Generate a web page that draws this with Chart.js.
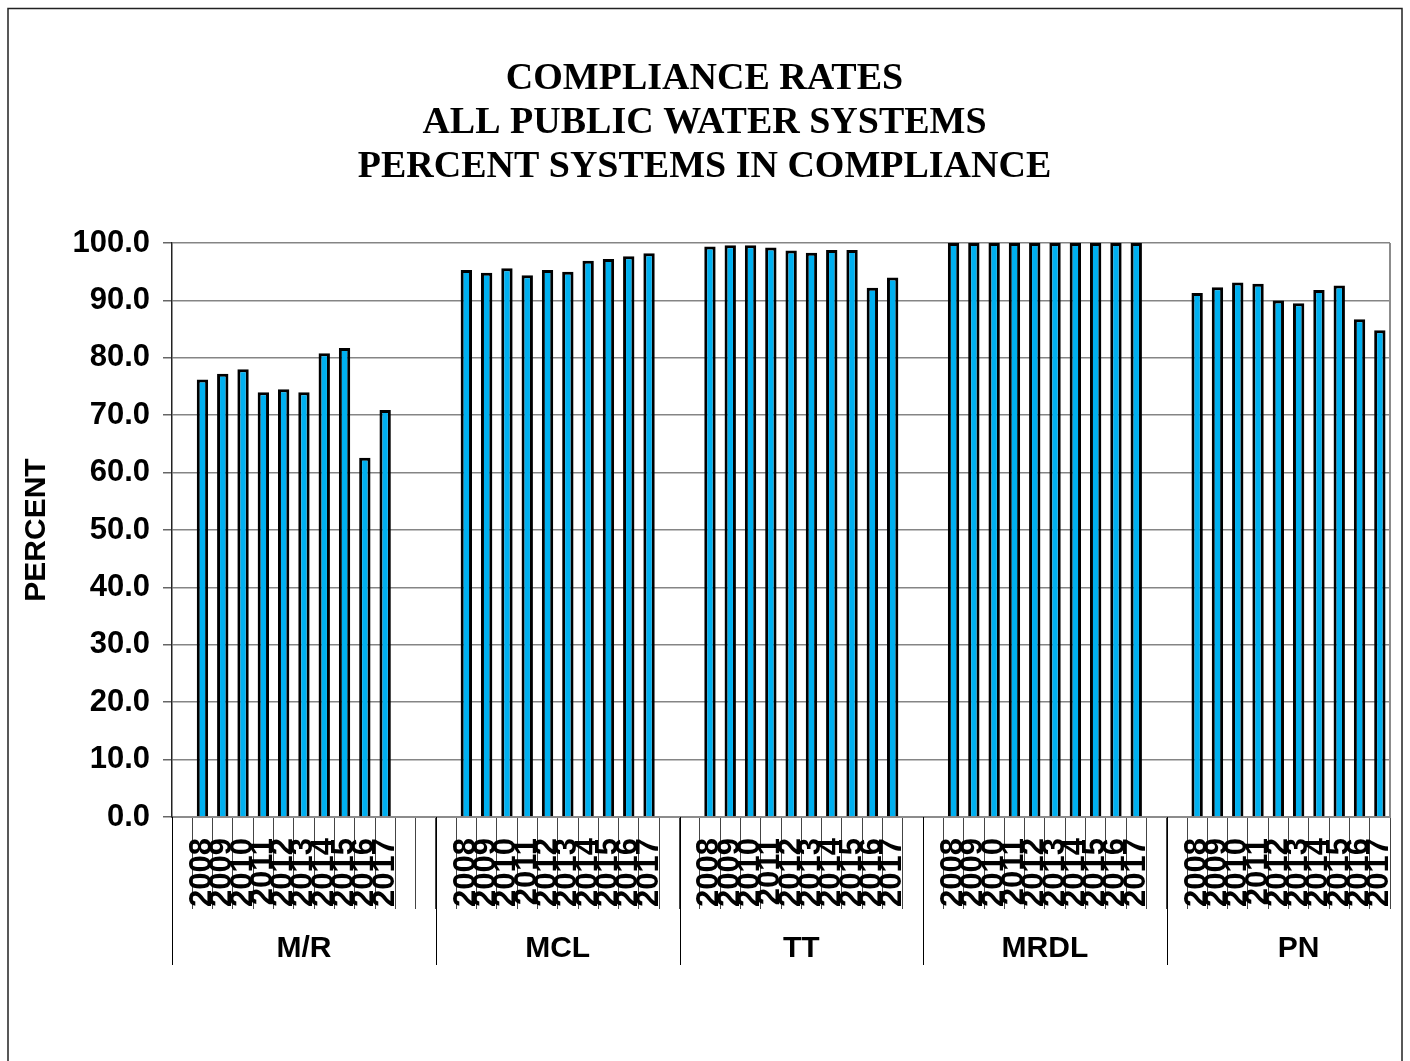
<!DOCTYPE html>
<html>
<head>
  <meta charset="UTF-8">
  <title>Compliance Rates</title>
  <script src="https://cdn.jsdelivr.net/npm/chart.js@4.4.1/dist/chart.umd.min.js"></script>
  <style>
    body { margin: 0; background: #fff; }
    #c { display: block; }
  </style>
</head>
<body>
<canvas id="c" width="1410" height="1061"></canvas>
<script>
  // data
  var years = ['2008', '2009', '2010', '2011', '2012', '2013', '2014', '2015', '2016', '2017'];
  var groups = ['M/R', 'MCL', 'TT', 'MRDL', 'PN'];
  var mr   = [76.2, 77.2, 78.0, 74.0, 74.5, 74.0, 80.8, 81.7, 62.6, 70.9];
  var mcl  = [95.3, 94.8, 95.6, 94.4, 95.3, 95.0, 96.9, 97.2, 97.7, 98.2];
  var tt   = [99.4, 99.6, 99.6, 99.2, 98.7, 98.3, 98.8, 98.8, 92.2, 94.0];
  var mrdl = [100, 100, 100, 100, 100, 100, 100, 100, 100, 100];
  var pn   = [91.3, 92.3, 93.1, 92.9, 90.0, 89.5, 91.8, 92.6, 86.7, 84.8];
  // empty category rows before / after each group (as in the sheet)
  var blankBefore = [1, 1, 1, 1, 1];
  var blankAfter  = [2, 1, 1, 1, 0];

  var series = [mr, mcl, tt, mrdl, pn];
  var labels = [], values = [], groupStart = [], groupSpan = [];
  groups.forEach(function(g, gi) {
    groupStart.push(labels.length);
    for (var i = 0; i < blankBefore[gi]; i++) { labels.push(''); values.push(null); }
    years.forEach(function(y, yi) { labels.push(y); values.push(series[gi][yi]); });
    for (var j = 0; j < blankAfter[gi]; j++) { labels.push(''); values.push(null); }
    groupSpan.push(labels.length - groupStart[gi]);
  });
  groupSpan[groupSpan.length - 1] += 2;  // Excel centres the last label as if the row block were full

  var FONT = 'Arial, "Liberation Sans", sans-serif';

  // outer frame, plot border and the second level of the category axis
  var groupAxis = {
    id: 'groupAxis',
    beforeDraw: function(chart) {
      var ctx = chart.ctx;
      ctx.save();
      ctx.fillStyle = '#fff';
      ctx.fillRect(0, 0, chart.width, chart.height);
      ctx.strokeStyle = '#222';
      ctx.lineWidth = 1.5;
      ctx.strokeRect(8, 8.5, 1394, 1100);
      ctx.restore();
    },
    afterDraw: function(chart) {
      var ctx = chart.ctx, x = chart.scales.x, a = chart.chartArea;
      var slot = x.width / labels.length;
      ctx.save();
      // plot area right edge
      ctx.strokeStyle = '#8c8c8c';
      ctx.lineWidth = 2;
      ctx.beginPath();
      ctx.moveTo(a.right, a.top);
      ctx.lineTo(a.right, a.bottom);
      ctx.stroke();
      // group separators
      ctx.strokeStyle = '#000';
      ctx.lineWidth = 1;
      groupStart.forEach(function(s) {
        var px = Math.round(x.left + s * slot) + 0.5;
        ctx.beginPath();
        ctx.moveTo(px, a.bottom);
        ctx.lineTo(px, a.bottom + 148);
        ctx.stroke();
      });
      // group names
      ctx.fillStyle = '#000';
      ctx.font = 'bold 30px ' + FONT;
      ctx.textAlign = 'center';
      ctx.textBaseline = 'middle';
      groups.forEach(function(g, gi) {
        var cx = x.left + (groupStart[gi] + groupSpan[gi] / 2) * slot;
        ctx.fillText(g, cx, a.bottom + 132);
      });
      ctx.restore();
    }
  };

  new Chart(document.getElementById('c'), {
    type: 'bar',
    data: {
      labels: labels,
      datasets: [{
        data: values,
        backgroundColor: '#00b0f0',
        borderColor: '#000',
        borderWidth: 3,
        barPercentage: 0.56,
        categoryPercentage: 1.0
      }]
    },
    options: {
      responsive: false,
      animation: false,
      devicePixelRatio: 1,
      layout: { padding: { left: 19, right: 20, top: 0, bottom: 0 } },
      plugins: {
        legend: { display: false },
        tooltip: { enabled: false },
        title: {
          display: true,
          text: ['COMPLIANCE RATES', 'ALL PUBLIC WATER SYSTEMS', 'PERCENT SYSTEMS IN COMPLIANCE'],
          color: '#000',
          font: { family: '"Liberation Serif", "Times New Roman", serif', size: 38, weight: 'bold', lineHeight: 44 / 38 },
          padding: { top: 57, bottom: 54 }
        }
      },
      scales: {
        x: {
          offset: true,
          grid: {
            offset: true,
            drawOnChartArea: false,
            drawTicks: true,
            tickLength: 92,
            color: '#444',
            lineWidth: 1
          },
          border: { display: true, color: '#8c8c8c', width: 2 },
          ticks: {
            autoSkip: false,
            maxRotation: 90,
            minRotation: 90,
            padding: -71,
            color: '#000',
            font: { family: FONT, size: 31, weight: 'bold' }
          },
          afterFit: function(s) { s.height = 244; }
        },
        y: {
          min: 0,
          max: 100,
          ticks: {
            stepSize: 10,
            padding: 13,
            color: '#000',
            font: { family: FONT, size: 31, weight: 'bold' },
            callback: function(v) { return v.toFixed(1); }
          },
          grid: { color: '#858585', lineWidth: 1.5, tickLength: 9, tickColor: '#666' },
          border: { display: true, color: '#222', width: 1.5 },
          title: {
            display: true,
            text: 'PERCENT',
            color: '#000',
            padding: 0,
            font: { family: FONT, size: 30, weight: 'bold' }
          },
          afterFit: function(s) { s.width = 153; }
        }
      }
    },
    plugins: [groupAxis]
  });
</script>
</body>
</html>
